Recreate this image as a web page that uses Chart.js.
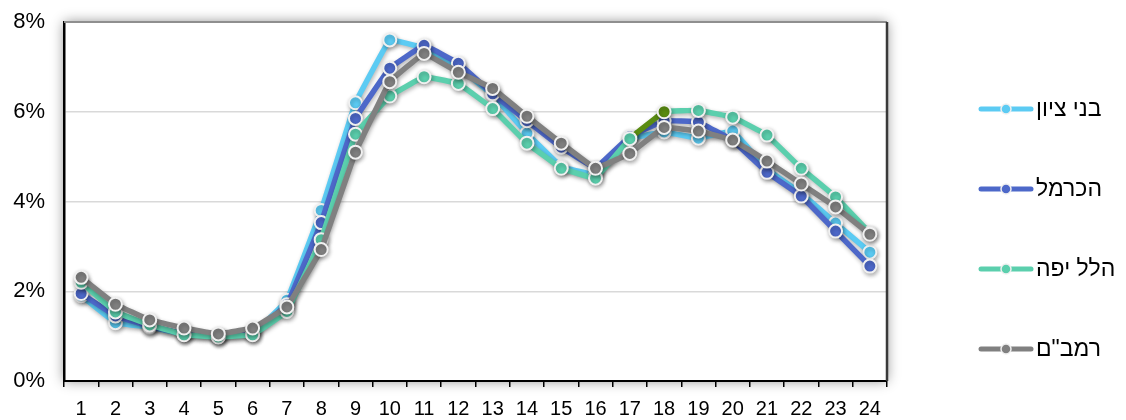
<!DOCTYPE html>
<html lang="he">
<head>
<meta charset="utf-8">
<title>התפלגות לפי שעה</title>
<script src="https://cdn.jsdelivr.net/npm/chart.js@4.4.1/dist/chart.umd.min.js"></script>
<style>
    body { margin: 0; background: #fff; }
    #caixa { width: 1126px; height: 420px; }
</style>
</head>
<body>
<div id="caixa"><canvas id="graficoHoras"></canvas></div>
<script>
// horas do dia
const horas = ["1", "2", "3", "4", "5", "6", "7", "8", "9", "10", "11", "12",
    "13", "14", "15", "16", "17", "18", "19", "20", "21", "22", "23", "24"];

const nomes = ["בני ציון", "הכרמל", "הלל יפה", 'רמב"ם'];

// valores em %
const beneiZion = [1.9, 1.3, 1.2, 1.05, 1.0, 1.05, 1.8, 3.8, 6.2, 7.6, 7.42, 7.0,
    6.37, 5.52, 4.78, 4.6, 5.4, 5.55, 5.41, 5.57, 4.72, 4.18, 3.52, 2.87];
const carmel = [1.95, 1.45, 1.22, 1.05, 1.0, 1.08, 1.7, 3.53, 5.85, 6.97, 7.48, 7.08,
    6.4, 5.8, 5.21, 4.75, 5.45, 5.8, 5.77, 5.36, 4.65, 4.12, 3.34, 2.56];
const hillelYafe = [2.2, 1.54, 1.25, 1.03, 0.98, 1.03, 1.55, 3.15, 5.5, 6.35, 6.78, 6.63,
    6.07, 5.3, 4.74, 4.52, 5.4, 6.0, 6.03, 5.88, 5.48, 4.74, 4.1, 3.3];
const rambam = [2.31, 1.71, 1.36, 1.18, 1.05, 1.18, 1.65, 2.93, 5.1, 6.67, 7.3, 6.88,
    6.52, 5.9, 5.3, 4.74, 5.07, 5.65, 5.57, 5.37, 4.9, 4.39, 3.88, 3.27];

const ticksY = [0, 2, 4, 6, 8];

const cores = ['#5ccbf3', '#4d68c9', '#5bcfad', '#808080'];
const verdeEscuro = '#5a8c12';

const fonte = 'Arial, "Liberation Sans", sans-serif';

function montarSerie(nome, valores, cor, ordem) {
    return {
        label: nome,
        data: valores,
        borderColor: cor,
        backgroundColor: cor,
        borderWidth: 5.5,
        borderJoinStyle: 'round',
        pointRadius: 6.5,
        pointHoverRadius: 6.5,
        pointBorderWidth: 2,
        pointBorderColor: '#f0f0f0',
        pointBackgroundColor: cor,
        tension: 0.05,
        order: ordem
    };
}

const series = [
    montarSerie(nomes[0], beneiZion, cores[0], 4),
    montarSerie(nomes[1], carmel, cores[1], 3),
    montarSerie(nomes[2], hillelYafe, cores[2], 2),
    montarSerie(nomes[3], rambam, cores[3], 1)
];

// no original o trecho 17-18 do הלל יפה aparece em verde escuro
series[2].pointBackgroundColor = hillelYafe.map((v, i) => i === 17 ? verdeEscuro : cores[2]);
series[2].segment = {
    borderColor: ctx => ctx.p1DataIndex === 17 ? verdeEscuro : undefined
};

// moldura com sombra atrás da área do gráfico
const moldura = {
    id: 'moldura',
    beforeDraw(chart) {
        const { ctx, chartArea: a } = chart;
        ctx.save();
        ctx.shadowColor = 'rgba(0,0,0,0.45)';
        ctx.shadowBlur = 12;
        ctx.fillStyle = '#fff';
        ctx.fillRect(a.left, a.top, a.right - a.left, a.bottom - a.top);
        ctx.restore();
    },
    afterDraw(chart) {
        const { ctx, chartArea: a } = chart;
        ctx.save();
        ctx.strokeStyle = '#8f8f8f';
        ctx.lineWidth = 2;
        ctx.beginPath();
        ctx.moveTo(a.left, a.top);
        ctx.lineTo(a.right, a.top);
        ctx.stroke();
        ctx.strokeStyle = '#3a3a3a';
        ctx.lineWidth = 2.5;
        ctx.beginPath();
        ctx.moveTo(a.right, a.top);
        ctx.lineTo(a.right, a.bottom);
        ctx.stroke();
        ctx.restore();
    }
};

// sombra leve nas linhas
const sombraLinhas = {
    id: 'sombraLinhas',
    beforeDatasetDraw(chart) {
        const ctx = chart.ctx;
        ctx.save();
        ctx.shadowColor = 'rgba(0,0,0,0.3)';
        ctx.shadowBlur = 4;
        ctx.shadowOffsetX = 1;
        ctx.shadowOffsetY = 2;
    },
    afterDatasetDraw(chart) {
        chart.ctx.restore();
    }
};

// legenda à direita, desenhada à mão para ficar igual ao original
const legendaLateral = {
    id: 'legendaLateral',
    afterDraw(chart) {
        const ctx = chart.ctx;
        const x0 = 979, larguraLinha = 54, topo = 109, passo = 80;
        ctx.save();
        chart.data.datasets.forEach((ds, i) => {
            const y = topo + i * passo;
            ctx.strokeStyle = ds.borderColor;
            ctx.lineWidth = 5;
            ctx.lineCap = 'round';
            ctx.beginPath();
            ctx.moveTo(x0 + 2, y);
            ctx.lineTo(x0 + larguraLinha - 2, y);
            ctx.stroke();
            ctx.beginPath();
            ctx.arc(x0 + larguraLinha / 2, y, 5, 0, Math.PI * 2);
            ctx.fillStyle = ds.borderColor;
            ctx.fill();
            ctx.lineWidth = 1.5;
            ctx.strokeStyle = '#f0f0f0';
            ctx.stroke();
            ctx.fillStyle = '#000';
            ctx.font = '23px ' + fonte;
            ctx.textBaseline = 'middle';
            ctx.textAlign = 'left';
            ctx.fillText(ds.label, x0 + larguraLinha + 3, y + 1);
        });
        ctx.restore();
    }
};

new Chart(document.getElementById('graficoHoras'), {
    type: 'line',
    data: {
        labels: horas,
        datasets: series
    },
    options: {
        responsive: true,
        maintainAspectRatio: false,
        animation: false,
        layout: {
            padding: { top: 22, right: 239, left: 0, bottom: 0 }
        },
        plugins: {
            legend: { display: false },
            tooltip: { enabled: false }
        },
        scales: {
            x: {
                offset: true,
                grid: {
                    offset: true,
                    drawOnChartArea: false,
                    drawTicks: true,
                    tickLength: 6,
                    color: '#000',
                    lineWidth: 1.5
                },
                border: { color: '#000', width: 2 },
                ticks: {
                    color: '#000',
                    padding: 10,
                    maxRotation: 0,
                    autoSkip: false,
                    font: { family: fonte, size: 20 }
                },
                afterFit(escala) { escala.height = 39; }
            },
            y: {
                min: ticksY[0],
                max: ticksY[ticksY.length - 1],
                afterBuildTicks(escala) {
                    escala.ticks = ticksY.map(v => ({ value: v }));
                },
                grid: {
                    color: '#d9d9d9',
                    lineWidth: 1.5,
                    drawTicks: false
                },
                border: { color: '#000', width: 2.5 },
                ticks: {
                    color: '#000',
                    padding: 19,
                    font: { family: fonte, size: 22 },
                    callback: v => v + '%'
                },
                afterFit(escala) {
                    escala.width = 64;
                    escala.paddingTop = 0;
                    escala.paddingBottom = 0;
                }
            }
        }
    },
    plugins: [moldura, sombraLinhas, legendaLateral]
});
</script>
</body>
</html>
